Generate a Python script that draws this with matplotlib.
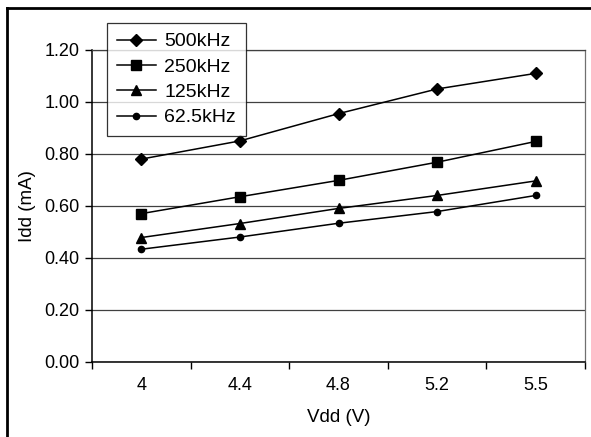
#!/usr/bin/env python3
import matplotlib
matplotlib.use("Agg")
import matplotlib.pyplot as plt
from matplotlib.lines import Line2D
import numpy as np

vdd_labels = ["4", "4.4", "4.8", "5.2", "5.5"]
idd_500k = [0.78, 0.85, 0.955, 1.05, 1.11]
idd_250k = [0.57, 0.635, 0.698, 0.768, 0.848]
idd_125k = [0.478, 0.532, 0.59, 0.64, 0.696]
idd_62k = [0.433, 0.48, 0.533, 0.578, 0.64]

series = [
    ("500kHz", idd_500k, "D", 6.3),
    ("250kHz", idd_250k, "s", 6.5),
    ("125kHz", idd_125k, "^", 7),
    ("62.5kHz", idd_62k, "o", 4.5),
]

plt.rcParams["font.family"] = ["Liberation Sans", "DejaVu Sans"]

fig = plt.figure(figsize=(5.91, 4.37), dpi=100)
ax = fig.add_axes([92 / 591, 1 - 361.7 / 437, (585 - 92) / 591, (361.7 - 50) / 437])

x = np.arange(len(vdd_labels))
for name, vals, mk, ms in series:
    ax.plot(x, vals, color="black", lw=1.1, marker=mk, markersize=ms, label=name)

ax.set_xlim(-0.5, len(vdd_labels) - 0.5)
ax.set_ylim(0, 1.2)
ax.set_yticks(np.arange(0, 1.21, 0.2))
ax.set_yticklabels([f"{v:.2f}" for v in np.arange(0, 1.21, 0.2)])
ax.yaxis.grid(True, color="#404040", lw=0.9)
ax.set_axisbelow(True)

# category boundaries as ticks, labels in the middle
ax.set_xticks(np.arange(-0.5, len(vdd_labels), 1.0))
ax.set_xticklabels([])
ax.set_xticks(x, minor=True)
ax.set_xticklabels(vdd_labels, minor=True)
ax.tick_params(axis="x", which="minor", length=0, pad=11, labelsize=13)
ax.tick_params(axis="x", which="major", length=5, direction="out", width=1)
ax.tick_params(axis="y", length=5, direction="out", width=1, labelsize=13, pad=4)

ax.spines["left"].set_color("black")
ax.spines["bottom"].set_color("black")
ax.spines["left"].set_linewidth(1.1)
ax.spines["bottom"].set_linewidth(1.1)
ax.spines["right"].set_color("#707070")
ax.spines["top"].set_color("#404040")
ax.spines["right"].set_linewidth(0.9)
ax.spines["top"].set_linewidth(0.9)

ax.set_xlabel("Vdd (V)", fontsize=13.5, labelpad=11)
ax.set_ylabel("Idd (mA)", fontsize=13.5, labelpad=6)

leg = ax.legend(loc="upper left", bbox_to_anchor=(107 / 591, 1 - 23 / 437),
                bbox_transform=fig.transFigure, fontsize=14, frameon=True,
                fancybox=False, edgecolor="black", handlelength=2.0,
                borderpad=0.5, labelspacing=0.4, handletextpad=0.45,
                borderaxespad=0)
leg.get_frame().set_linewidth(0.9)
leg.set_zorder(5)

# outer chart frame (only top/left visible in the crop)
fig.add_artist(Line2D([7 / 591, 1.0], [1 - 8 / 437, 1 - 8 / 437],
                      transform=fig.transFigure, color="black", lw=2))
fig.add_artist(Line2D([7 / 591, 7 / 591], [0.0, 1 - 8 / 437],
                      transform=fig.transFigure, color="black", lw=2))

fig.savefig("out.png", dpi=100)
